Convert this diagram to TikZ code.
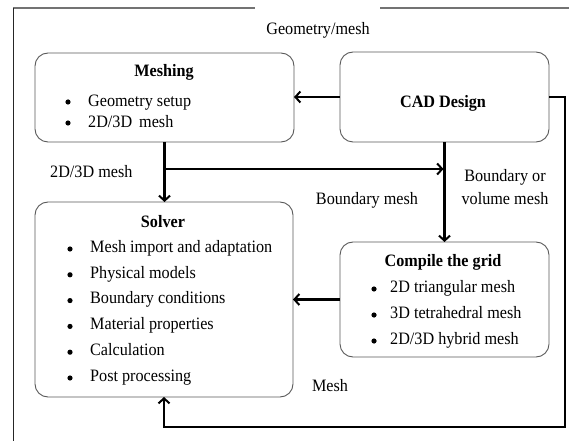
\documentclass[tikz,border=0pt]{standalone}
\usepackage{fontspec}
\setmainfont{Liberation Serif}[FakeStretch=0.93]
\usetikzlibrary{arrows.meta}
\begin{document}
\begin{tikzpicture}[x=1bp,y=-1bp,
  box/.style={draw=black!65, line width=0.9bp, rounded corners=13bp, inner sep=0pt, outer sep=0pt},
  conn/.style={line width=2.4bp, -{Straight Barb[length=5bp,width=11bp,line width=2bp]}},
  txt/.style={inner sep=0pt, text height=12bp, text depth=3.5bp, font=\fontsize{17.4bp}{20bp}\selectfont},
  ttl/.style={txt, font=\fontsize{17.4bp}{20bp}\selectfont\bfseries},
  itm/.style={txt, anchor=west},
  bul/.style={circle, fill=black, inner sep=0pt, minimum size=5.2bp}]
\useasboundingbox (0,0) rectangle (569,441);
% frame
\draw[black!55, line width=1.5bp] (13,8) -- (255,8) (380,8) -- (569,8);
\draw[black!85, line width=0.8bp] (13,8) -- (13,441);
% boxes
\node[box, minimum width=259bp, minimum height=89bp] (mesh) at (164.5,97.5) {};
\node[box, minimum width=209bp, minimum height=90bp] (cad) at (444.5,97) {};
\node[box, minimum width=258bp, minimum height=195bp] (solver) at (164,299.5) {};
\node[box, minimum width=209bp, minimum height=115bp] (grid) at (444.5,299.5) {};
% meshing text
\node[ttl] (mt) at (164,72) {Meshing};
\node[bul] (mb1) at (68,102) {};
\node[itm] (mi1) at (88,102) {Geometry setup};
\node[bul] (mb2) at (68,123) {};
\node[itm] (mi2) at (88,123) {2D/3D\ \,mesh};
% CAD
\node[ttl] (ct) at (443,103) {CAD Design};
% solver text
\node[ttl] (st) at (163,223) {Solver};
\foreach \t [count=\i from 0] in {Mesh import and adaptation, Physical models, Boundary conditions, Material properties, Calculation, Post processing}{
  \node[bul] (sb\i) at (70,249+25.8*\i) {};
  \node[itm] (si\i) at (90,248+25.8*\i) {\t};
}
% compile text
\node[ttl] (gt) at (443,262) {Compile the grid};
\foreach \t [count=\i from 0] in {2D triangular mesh, 3D tetrahedral mesh, 2D/3D hybrid mesh}{
  \node[bul] (gb\i) at (374,289+26*\i) {};
  \node[itm] (gi\i) at (390,288+26*\i) {\t};
}
% labels
\node[txt] (lgm) at (318,30) {Geometry/mesh};
\node[itm] (l2d) at (50,173) {2D/3D mesh};
\node[txt] (lbm) at (367,200) {Boundary mesh};
\node[inner sep=0pt, align=center, font=\fontsize{17.4bp}{23bp}\selectfont] (lbv) at (505,187) {Boundary or\\volume mesh};
\node[txt] (lm) at (330,387) {Mesh};
% connectors
\draw[conn] (cad.west) -- (cad.west -| mesh.east);
\draw[conn] (mesh.south) -- (mesh.south |- solver.north);
\coordinate (j) at (164.5,169);
\draw[conn, shorten >=1bp] (j) -- (j -| cad.south);
\draw[conn] (cad.south) -- (grid.north);
\draw[conn] (grid.west) -- (grid.west -| solver.east);
\coordinate (rt) at (565,98);
\coordinate (rb) at (565,427);
\draw[conn] (cad.east) -- (cad.east -| rt) -- (rb) -- (rb -| solver.south) -- (solver.south);
\end{tikzpicture}
\end{document}
